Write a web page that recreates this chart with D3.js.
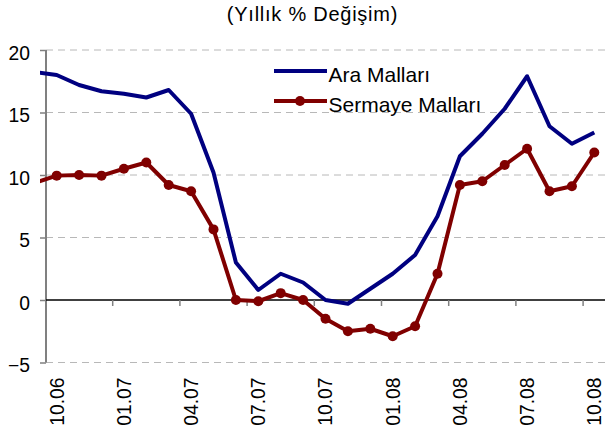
<!DOCTYPE html>
<html><head><meta charset="utf-8">
<script src="https://cdn.jsdelivr.net/npm/d3@7"></script>
<style>body{margin:0;background:#fff}svg{display:block;font-family:Arial,"Liberation Sans",sans-serif}</style>
</head><body><svg id="c" width="605" height="437"></svg>
<script>
const categories = ["09.06","10.06","11.06","12.06","01.07","02.07","03.07","04.07","05.07","06.07","07.07","08.07","09.07","10.07","11.07","12.07","01.08","02.08","03.08","04.08","05.08","06.08","07.08","08.08","09.08","10.08"];
const araMallari = [18.25,18.0,17.2,16.7,16.5,16.2,16.8,14.9,10.2,3.0,0.8,2.1,1.4,0.0,-0.3,0.9,2.1,3.6,6.7,11.5,13.3,15.3,17.9,13.9,12.5,13.4];
const sermayeMallari = [9.35,9.95,10.0,9.95,10.5,11.0,9.2,8.7,5.65,0.0,-0.1,0.55,0.0,-1.5,-2.5,-2.3,-2.9,-2.1,2.1,9.2,9.5,10.8,12.1,8.7,9.1,11.8];
const yTicks = [-5,0,5,10,15,20];
const xLabels = ["10.06","01.07","04.07","07.07","10.07","01.08","04.08","07.08","10.08"];
const seriesNames = ["Ara Malları","Sermaye Malları"];
const title = "(Yıllık % Değişim)";

const svg = d3.select("#c");
const x = d3.scaleLinear().domain([0, categories.length - 1]).range([34.3, 594.3]);
const y = d3.scaleLinear().domain([-5, 20]).range([362.5, 50]);
const idx = c => categories.indexOf(c);

svg.append("text").attr("x", 312.5).attr("y", 20.5).attr("text-anchor", "middle")
  .attr("font-size", 20).attr("letter-spacing", 0.75).attr("fill", "#000").text(title);

// gridlines
svg.append("g").selectAll("line").data(yTicks.filter(t => t !== 0)).join("line")
  .attr("x1", 46).attr("x2", 605).attr("y1", d => y(d)).attr("y2", d => y(d))
  .attr("stroke", "#b8b8b8").attr("stroke-dasharray", "7,5").attr("stroke-width", 1);

// y axis
const yAxis = svg.append("g").attr("transform", "translate(46,0)")
  .call(d3.axisLeft(y).tickValues(yTicks).tickSize(6).tickPadding(10).tickFormat(d3.format("d")));
yAxis.select(".domain").attr("stroke", "#808080").attr("stroke-width", 2).attr("d", `M0,${y(20)}V${y(-5)}`);
yAxis.selectAll(".tick line").attr("stroke", "#808080").attr("stroke-width", 1.5);
yAxis.selectAll(".tick text").attr("font-size", 19.3).attr("fill", "#000").attr("dy", "0.47em")
  .attr("font-family", "Arial, Liberation Sans, sans-serif");

// x axis at zero
svg.append("line").attr("x1", 46).attr("x2", 605).attr("y1", y(0)).attr("y2", y(0))
  .attr("stroke", "#000").attr("stroke-width", 1.5);
const boundaryIdx = xLabels.slice(1).map(l => idx(l) - 0.5);
svg.append("g").selectAll("line").data(boundaryIdx).join("line")
  .attr("x1", d => x(d)).attr("x2", d => x(d)).attr("y1", y(0)).attr("y2", y(0) + 6)
  .attr("stroke", "#808080").attr("stroke-width", 1.5);
svg.append("g").selectAll("text").data(xLabels).join("text")
  .attr("transform", d => `translate(${x(idx(d)) + 6.8},377.5) rotate(-90)`)
  .attr("text-anchor", "end").attr("font-size", 19.3).attr("fill", "#000").text(d => d);

// clip
svg.append("defs").append("clipPath").attr("id", "clip").append("rect")
  .attr("x", 40).attr("y", 0).attr("width", 570).attr("height", 437);

const line = d3.line().x((d, i) => x(i)).y(d => y(d));
const g = svg.append("g").attr("clip-path", "url(#clip)");
g.append("path").datum(araMallari).attr("d", line).attr("fill", "none")
  .attr("stroke", "#000080").attr("stroke-width", 4).attr("stroke-linejoin", "round");
g.append("path").datum(sermayeMallari).attr("d", line).attr("fill", "none")
  .attr("stroke", "#800000").attr("stroke-width", 4).attr("stroke-linejoin", "round");
g.selectAll("circle").data(sermayeMallari.map((v, i) => [i, v]).filter(d => d[0] >= 1)).join("circle")
  .attr("cx", d => x(d[0])).attr("cy", d => y(d[1])).attr("r", 5).attr("fill", "#800000");

// legend
const leg = svg.append("g");
leg.append("line").attr("x1", 274).attr("x2", 327).attr("y1", 71).attr("y2", 71)
  .attr("stroke", "#000080").attr("stroke-width", 4);
leg.append("line").attr("x1", 274).attr("x2", 327).attr("y1", 101).attr("y2", 101)
  .attr("stroke", "#800000").attr("stroke-width", 4);
leg.append("circle").attr("cx", 300).attr("cy", 101).attr("r", 5).attr("fill", "#800000");
leg.append("text").attr("x", 328.5).attr("y", 81.5).attr("font-size", 21).attr("fill", "#000").text(seriesNames[0]);
leg.append("text").attr("x", 328.5).attr("y", 111.5).attr("font-size", 21).attr("fill", "#000").text(seriesNames[1]);
</script></body></html>
